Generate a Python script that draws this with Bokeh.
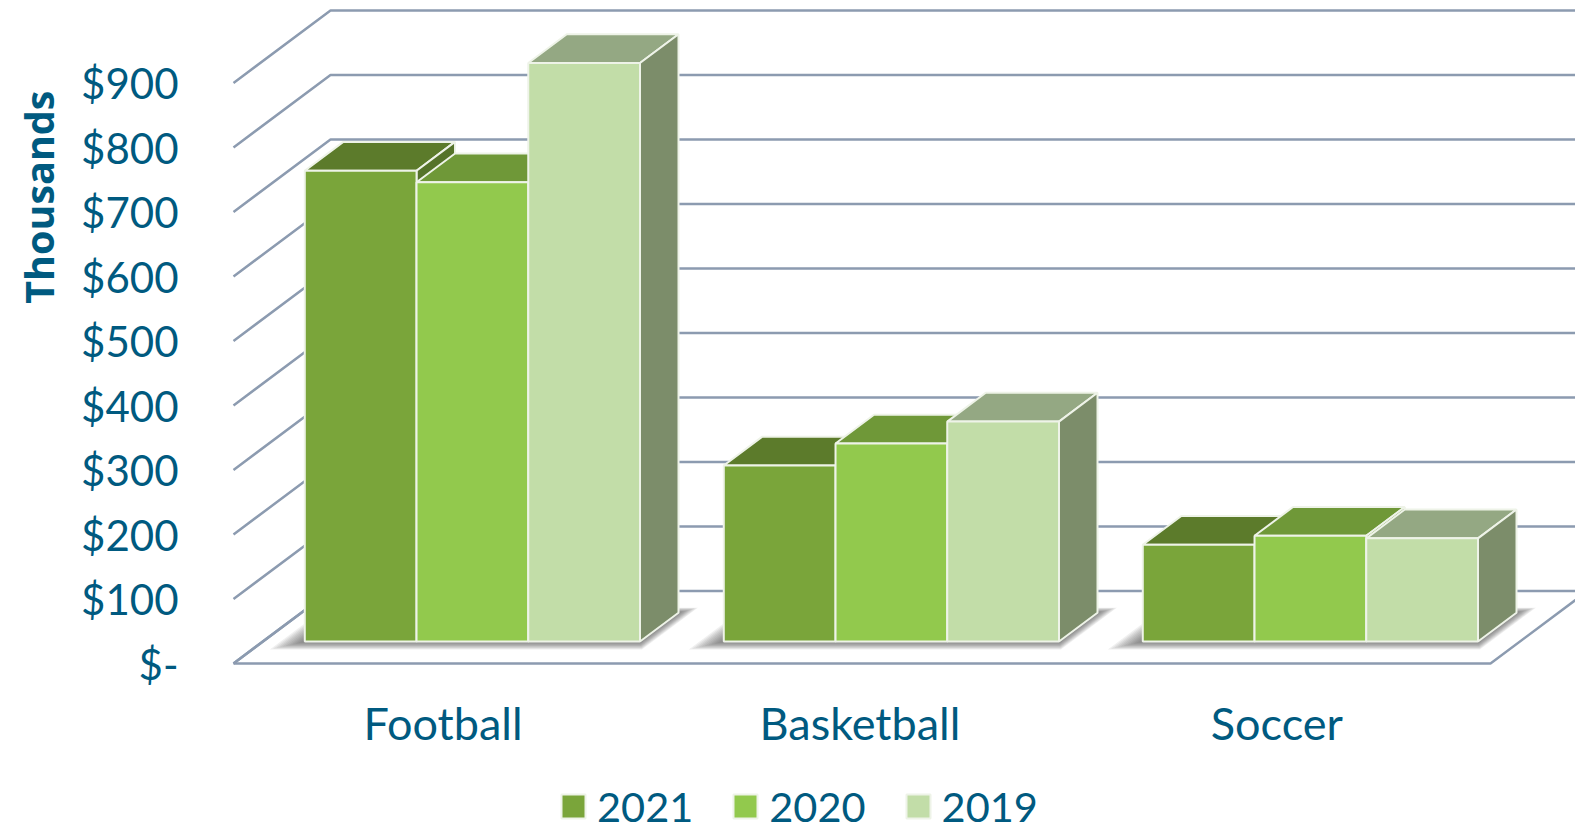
from bokeh.plotting import figure
from bokeh.models import Range1d, FixedTicker, Legend, LegendItem, Title
from bokeh.embed import file_html
from bokeh.resources import INLINE

categories = ["Football", "Basketball", "Soccer"]
series_names = ["2021", "2020", "2019"]
values_2021 = [730, 273, 150]
values_2020 = [712, 307, 164]
values_2019 = [897, 341, 160]
tick_values = [0, 100, 200, 300, 400, 500, 600, 700, 800, 900]
tick_labels = ["$-", "$100", "$200", "$300", "$400", "$500", "$600", "$700", "$800", "$900"]

front_colors = ["#7aa53a", "#92c94d", "#c2dda8"]
top_colors = ["#5c7b2b", "#6f9838", "#94a883"]
side_colors = ["#55732a", "#668c33", "#7c8d6a"]
edge_color = "#eef3e8"
grid_color = "#8c9bb0"
text_color = "#005a80"
font = "Lato"

# Scale of the picture: one category slot and one value unit in pixels
PX_X, PX_Y = 419.0, 0.645
FRAME_W, FRAME_H = 1344, 823
DX, DY = 97.0 / PX_X, 72.5 / PX_Y       # full floor depth in data units
D0, D1 = 0.303, 0.70                    # front and back depth of the bars
BAR_W = 0.8 / 3
x_start = -2.0 / PX_X
y_start = -168.0 / PX_Y

p = figure(width=1575, height=831, output_backend="svg", toolbar_location=None,
           x_range=Range1d(x_start, x_start + FRAME_W / PX_X),
           y_range=Range1d(y_start, y_start + FRAME_H / PX_Y),
           frame_width=FRAME_W, frame_height=FRAME_H,
           min_border_left=231, min_border_right=0, min_border_top=8, min_border_bottom=0,
           background_fill_color="white", border_fill_color="white", outline_line_color=None)
p.grid.visible = False

# Axes
ya = p.yaxis[0]
ya.ticker = FixedTicker(ticks=tick_values)
ya.major_label_overrides = dict(zip(tick_values, tick_labels))
ya.axis_line_color = None
ya.major_tick_line_color = None
ya.minor_tick_line_color = None
ya.major_label_standoff = 47
ya.major_label_text_font = font
ya.major_label_text_font_size = "42px"
ya.major_label_text_color = text_color

cat_pos = [0.5, 1.495, 2.49]
xa = p.xaxis[0]
xa.fixed_location = 0
xa.ticker = FixedTicker(ticks=cat_pos)
xa.major_label_overrides = dict(zip(cat_pos, categories))
xa.axis_line_color = None
xa.major_tick_line_color = None
xa.minor_tick_line_color = None
xa.major_label_standoff = 26
xa.major_label_text_font = font
xa.major_label_text_font_size = "45px"
xa.major_label_text_color = text_color

# Walls and floor
x_end = x_start + FRAME_W / PX_X
xs_grid = [[0, DX, x_end] for _ in tick_values]
ys_grid = [[v, v + DY, v + DY] for v in tick_values]
p.multi_line(xs_grid, ys_grid, line_color=grid_color, line_width=2.5)
p.line([0, DX], [0, DY], line_color=grid_color, line_width=2.5)
p.line([0, len(categories), len(categories) + DX], [0, 0, DY], line_color=grid_color, line_width=2.5)

# Soft floor shadows: stacked translucent parallelograms under each group
n_layers = 12
for k in range(n_layers):
    t = 1 - k / (n_layers - 1)
    xs_s, ys_s = [], []
    for c in range(len(categories)):
        x0 = c + 0.1 - 0.058 * t
        x1 = c + 0.9 + 0.03 * t
        df = D0 - 0.11 * t
        db = D1 + 0.07 * t
        xs_s.append([x0 + df * DX, x1 + df * DX, x1 + db * DX, x0 + db * DX])
        ys_s.append([df * DY, df * DY, db * DY, db * DY])
    p.patches(xs_s, ys_s, fill_color="#404040", fill_alpha=0.08, line_color=None)

# Bars
items = []
for s, vals in enumerate([values_2021, values_2020, values_2019]):
    lefts = [c + 0.1 + s * BAR_W + D0 * DX for c in range(len(categories))]
    rights = [l + BAR_W for l in lefts]
    sd = (D1 - D0)
    xs_top = [[l, r, r + sd * DX, l + sd * DX] for l, r in zip(lefts, rights)]
    ys_top = [[v + D0 * DY, v + D0 * DY, v + D1 * DY, v + D1 * DY] for v in vals]
    xs_side = [[r, r + sd * DX, r + sd * DX, r] for r in rights]
    ys_side = [[D0 * DY, D1 * DY, v + D1 * DY, v + D0 * DY] for v in vals]
    p.patches(xs_top, ys_top, fill_color=top_colors[s], line_color=edge_color, line_width=2)
    p.patches(xs_side, ys_side, fill_color=side_colors[s], line_color=edge_color, line_width=2)
    r = p.quad(left=lefts, right=rights, bottom=[D0 * DY] * len(vals), top=[v + D0 * DY for v in vals],
               fill_color=front_colors[s], line_color=edge_color, line_width=2)
    items.append(LegendItem(label=series_names[s], renderers=[r]))

legend = Legend(items=items, orientation="horizontal", location=(327, 0),
                glyph_width=30, glyph_height=30, label_standoff=9, spacing=37,
                padding=0, margin=0, border_line_color=None, background_fill_alpha=0,
                label_text_font=font, label_text_font_size="41.5px", label_text_color=text_color,
                label_height=32)
p.add_layout(legend, "center")

p.add_layout(Title(text="Thousands", align="right", offset=82, standoff=22, vertical_align="top",
                   text_font="Open Sans", text_font_style="bold", text_font_size="39.5px",
                   text_color=text_color), "left")

open("out.html", "w").write(file_html(p, INLINE))
